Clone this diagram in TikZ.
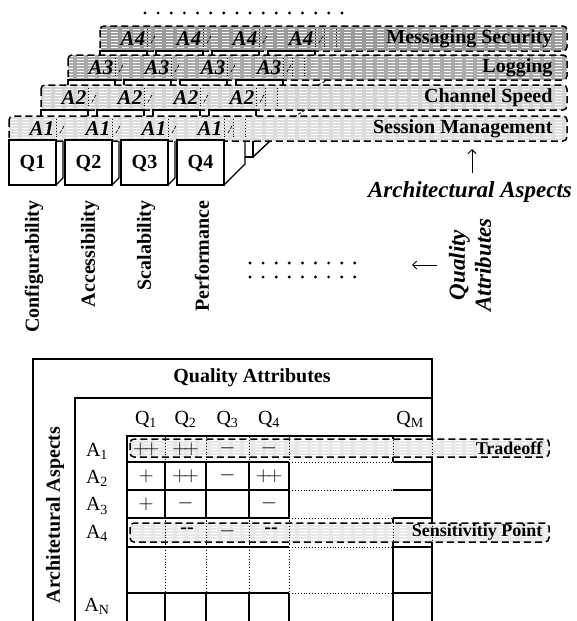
\documentclass[tikz,border=0pt]{standalone}
\usepackage{fontspec}
\setmainfont{Liberation Serif}
\usetikzlibrary{patterns,arrows.meta}

\begin{document}
\begin{tikzpicture}[x=1pt, y=-1pt,
  aspect/.style={draw, line width=1.5pt, dash pattern=on 7pt off 4pt, rounded corners=4pt,
    preaction={fill=#1}, pattern=horizontal lines, pattern color=white},
  cell/.style={line width=1.4pt},
  hint/.style={dotted, line width=0.9pt},
  frame/.style={line width=1.5pt},
  bigbf/.style={font=\fontsize{20}{22}\selectfont\bfseries},
  bigit/.style={font=\fontsize{21}{22}\selectfont\bfseries\itshape},
  tab/.style={font=\fontsize{20}{22}\selectfont},
  note/.style={font=\fontsize{18}{20}\selectfont\bfseries},
  arrow/.style={-{Straight Barb[length=4pt,width=8pt]}, line width=0.9pt}]

\useasboundingbox (0,0) rectangle (576,621);

% aspect slabs, back to front
\foreach \k/\lft/\top/\col/\name in {4/100/26/gray!78/Messaging Security, 3/68/55/gray!66/Logging,
                                     2/41/85/gray!34/Channel Speed, 1/9/116/gray!26/Session Management} {
  \draw[aspect=\col] (\lft,\top) rectangle (567,\top+25);
  \foreach \i [evaluate=\i as \x using \lft+56*\i] in {0,...,3} {
    \draw[hint] (\x+47,\top+3) -- (\x+47,\top+22);
    \draw[densely dashed, line width=0.7pt] (\x+51,\top+17) -- (\x+56,\top+8);
    \node[bigit] (a\k\i) at (\x+33,\top+12.5) {A\k};
  }
  \draw[hint] (\lft+224,\top+3) -- (\lft+224,\top+22);
  \draw[hint] (\lft+236,\top+3) -- (\lft+236,\top+22);
  \node[bigbf, anchor=east] (row\k) at (556,\top+12.5) {\name};
}

% cells showing between the slabs
\foreach \lft/\bot/\nxt in {100/51/55, 68/80/85, 41/110/116} {
  \foreach \i [evaluate=\i as \x using \lft+56*\i] in {0,...,3} {
    \draw[cell] (\x,\nxt) -- (\x,\bot) -- (\x+47,\bot) -- (\x+47,\nxt);
  }
}

% depth edges between slabs
\draw[densely dashed, line width=0.9pt] (294,117) -- (305,110);
\draw[densely dashed, line width=0.9pt] (318,85) -- (328,80);

% quality columns in front
\foreach \i/\name [evaluate=\i as \x using 9+56*(\i-1)] in
    {1/Configurability, 2/Accessibility, 3/Scalability, 4/Performance} {
  \draw[cell, fill=white] (\x,140) rectangle (\x+47,185);
  \node[bigbf] (q\i) at (\x+23.5,163) {Q\i};
  \node[bigbf, rotate=90, anchor=east] (attr\i) at (\x+25,197) {\name};
}
\foreach \i [evaluate=\i as \x using 56+56*(\i-1)] in {1,2,3}
  \draw[cell] (\x,185) -- (\x+7,178) -- (\x+7,141);
\draw[cell] (224,185) -- (245,164) -- (245,141);
\draw[cell] (245,157) -- (253,157) -- (253,141);
\draw[cell] (253,157) -- (270,141);

% more of both
\foreach \j in {0,...,15}
  \fill (145+13.13*\j,13) circle (1.6pt);
\foreach \j in {0,...,8} {
  \fill (250+13.1*\j,263) circle (1.6pt);
  \fill (250+13.1*\j,277) circle (1.6pt);
}

\node[font=\fontsize{23}{26}\selectfont\bfseries\itshape] (aspects) at (470,192) {Architectural Aspects};
\coordinate (aspup) at (472,149);
\draw[arrow, shorten <=5pt] (aspup |- aspects.north) -- (aspup);

\node[font=\fontsize{23}{26}\selectfont\bfseries\itshape, rotate=90, align=center] (qattr) at (470,265) {Quality\\Attributes};
\coordinate (qtip) at (412,265);
\draw[arrow, shorten <=8pt] (qattr.north) -- (qtip);

% the table
\draw[frame] (33,621) -- (33,359) -- (432,359) -- (432,621);
\node[bigbf] (qhead) at (252,378) {Quality Attributes};
\draw[frame] (75,621) -- (75,398) -- (432,398);
\node[bigbf, rotate=90] (ahead) at (55,515) {Architetural Aspects};

\draw[frame] (127,621) -- (127,436) -- (432,436);
\draw[frame] (393,436) -- (393,462) (393,518) -- (393,621);
% solid and dotted rules
\foreach \y in {462,490,518,547,593} {
  \draw[frame] (127,\y) -- (289,\y);
  \draw[hint] (289,\y) -- (393,\y);
  \draw[frame] (393,\y) -- (432,\y);
}
\foreach \x in {165,206,249,289} {
  \draw[frame] (\x,462) -- (\x,518);
  \draw[frame] (\x,593) -- (\x,621);
  \draw[hint] (\x,436) -- (\x,462);
  \draw[hint] (\x,518) -- (\x,593);
}

% tradeoff and sensitivity point
\draw[aspect=gray!18] (130,439) rectangle (549,457);
\draw[aspect=gray!18] (130,523) rectangle (549,542);
\foreach \x in {165,206,249,289,393,432} {
  \draw[hint] (\x,437) -- (\x,460);
  \draw[hint] (\x,520) -- (\x,545);
}
\node[note, anchor=east] (tradeoff) at (546,448) {Tradeoff};
\node[note, anchor=east] (sense) at (546,532.5) {Sensitivitiy Point};

% headers
\foreach \i/\x in {1/146,2/185.5,3/227.5,4/269}
  \node[tab] (qcol\i) at (\x,419) {Q\textsubscript{\i}};
\node[tab] (qcolm) at (410,419) {Q\textsubscript{M}};
\foreach \r/\y in {1/451,2/478,3/506,4/533,N/606}
  \node[tab] (arow\r) at (97,\y) {A\textsubscript{\r}};

% entries
\node[tab] (c11) at (146,449) {$+\!+$};
\node[tab] (c12) at (185.5,449) {$+\!+$};
\node[tab] (c13) at (227.5,448) {$-$};
\node[tab] (c14) at (269,448) {$-$};
\node[tab] (c21) at (146,476) {$+$};
\node[tab] (c22) at (185.5,476) {$+\!+$};
\node[tab] (c23) at (227.5,475) {$-$};
\node[tab] (c24) at (269,476) {$+\!+$};
\node[tab] (c31) at (146,504) {$+$};
\node[tab] (c32) at (185.5,503) {$-$};
\node[tab] (c34) at (269,503) {$-$};
\node[tab] (c42) at (187,531) {\textbf{-{}-}};
\node[tab] (c43) at (227.5,531) {$-$};
\node[tab] (c44) at (271,531) {\textbf{-{}-}};
\end{tikzpicture}
\end{document}
